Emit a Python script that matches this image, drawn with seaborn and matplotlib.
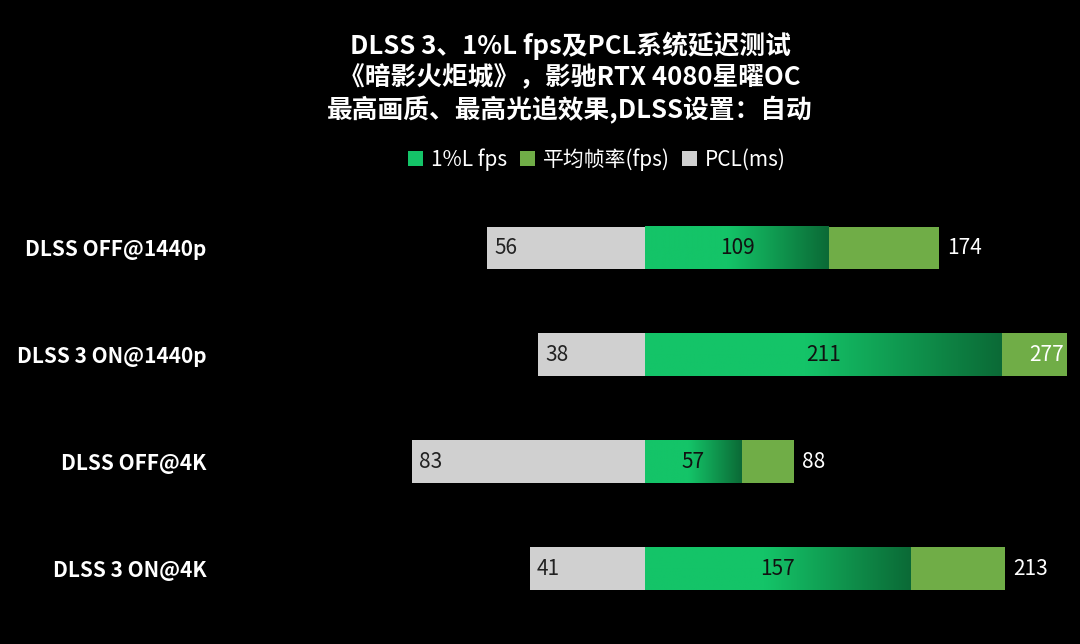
import numpy as np
import pandas as pd
import seaborn as sns
import matplotlib.pyplot as plt
from matplotlib.colors import LinearSegmentedColormap
from matplotlib.patches import Patch

# data
configs = ["DLSS OFF@1440p", "DLSS 3 ON@1440p", "DLSS OFF@4K", "DLSS 3 ON@4K"]
low1_fps = [109, 211, 57, 157]
avg_fps = [174, 277, 88, 213]
pcl_ms = [56, 38, 83, 41]

df = pd.DataFrame({"config": configs, "low1": low1_fps, "avg": avg_fps, "pcl": pcl_ms})
df["pcl_neg"] = -df["pcl"]

sns.set_theme(style="dark")
plt.rcParams["font.family"] = ["Noto Sans CJK SC", "DejaVu Sans"]
plt.rcParams["figure.facecolor"] = "black"
plt.rcParams["axes.facecolor"] = "black"

green_hi = "#14C468"
green_lo = "#0B6A36"
olive = "#70AD47"
grey = "#D0D0D0"

fig = plt.figure(figsize=(10.8, 6.44), dpi=100)
ax = fig.add_axes([0.2065, 0.034, 0.7815, 0.664])

# fps bars (primary axis)
sns.barplot(data=df, x="avg", y="config", color=olive, orient="h", width=0.4,
            saturation=1, linewidth=0, ax=ax)
n_before = len(ax.patches)
sns.barplot(data=df, x="low1", y="config", color=green_hi, orient="h", width=0.4,
            saturation=1, linewidth=0, ax=ax)
low_patches = ax.patches[n_before:]
ax.set_xlim(-250, 250)

# gradient fill on 1%L bars
cmap = LinearSegmentedColormap.from_list(
    "g", [(0, green_hi), (0.45, green_hi), (1.0, green_lo)])
grad = np.linspace(0, 1, 256).reshape(1, -1)
for p in low_patches:
    x0, y0 = p.get_x(), p.get_y()
    w, h = p.get_width(), p.get_height()
    ax.imshow(grad, cmap=cmap, aspect="auto", extent=[x0, x0 + w, y0 + h, y0],
              zorder=p.get_zorder() + 0.1)
ax.set_xlim(-250, 250)
ax.set_ylim(3.5, -0.5)

# PCL bars on a secondary axis with its own scale
ax2 = ax.twiny()
sns.barplot(data=df, x="pcl_neg", y="config", color=grey, orient="h", width=0.4,
            saturation=1, linewidth=0, ax=ax2)
ax2.set_xlim(-150, 150)
ax2.set_ylim(3.5, -0.5)

for a in (ax, ax2):
    a.set_xticks([])
    a.set_xlabel("")
    a.set_ylabel("")
    a.grid(False)
    for s in a.spines.values():
        s.set_visible(False)

ax.tick_params(axis="y", length=0, pad=12)
ax.set_yticks(range(len(configs)))
ax.set_yticklabels(configs, color="white", fontsize=15, fontweight="bold")

# value labels
for i in range(len(configs)):
    ax.text(low1_fps[i] / 2, i, str(low1_fps[i]), ha="center", va="center",
            fontsize=15, color="#111111", zorder=10)
    if avg_fps[i] > 250:
        ax.text(248, i, str(avg_fps[i]), ha="right", va="center",
                fontsize=15, color="white", zorder=10)
    else:
        ax.text(avg_fps[i] + 5, i, str(avg_fps[i]), ha="left", va="center",
                fontsize=15, color="white", zorder=10)
    ax2.text(-pcl_ms[i] + 2.5, i, str(pcl_ms[i]), ha="left", va="center",
             fontsize=15, color="#222222", zorder=10)

fig.text(0.528, 0.879, "DLSS 3、1%L fps及PCL系统延迟测试\n《暗影火炬城》，影驰RTX 4080星曜OC\n最高画质、最高光追效果,DLSS设置：自动",
         ha="center", va="center", color="white", fontsize=18.5, fontweight="bold",
         linespacing=1.22)

handles = [Patch(facecolor=green_hi, edgecolor="none", label="1%L fps"),
           Patch(facecolor=olive, edgecolor="none", label="平均帧率(fps)"),
           Patch(facecolor=grey, edgecolor="none", label="PCL(ms)")]
leg = fig.legend(handles=handles, loc="center", bbox_to_anchor=(0.553, 0.752), ncol=3,
                 frameon=False, fontsize=15, handlelength=0.7, handleheight=0.7,
                 handletextpad=0.4, columnspacing=0.6)
for t in leg.get_texts():
    t.set_color("white")

fig.savefig("out.png", dpi=100, facecolor="black")
